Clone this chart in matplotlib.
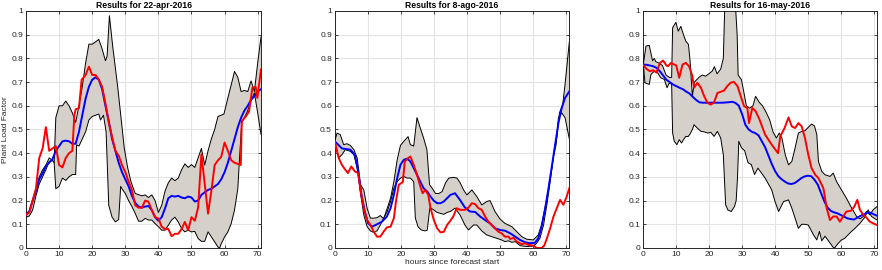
import numpy as np
import matplotlib
matplotlib.use("Agg")
import matplotlib.pyplot as plt

plt.rcParams['font.family'] = ['Liberation Sans', 'DejaVu Sans']

# ------------------------------------------------------------
# data, hours since forecast start
# ------------------------------------------------------------
titles = ["Results for 22-apr-2016", "Results for 8-ago-2016", "Results for 16-may-2016"]
x_ticks = [0, 10, 20, 30, 40, 50, 60, 70]
y_ticks = [0, 0.1, 0.2, 0.3, 0.4, 0.5, 0.6, 0.7, 0.8, 0.9, 1]
y_tick_labels = ["0", "0.1", "0.2", "0.3", "0.4", "0.5", "0.6", "0.7", "0.8", "0.9", "1"]

# 22-apr-2016
apr_up_h = [0, 1, 2, 3, 4, 5, 6, 7, 8, 8.5, 9, 10, 11, 12, 13, 14, 15, 16, 17, 18, 19, 20, 21, 22, 23, 24, 24.5,
            25.2, 26.2, 27, 27.7, 28.7, 29.7, 30.7, 31.7, 33, 34, 35, 36, 37, 38, 39, 40, 41, 42, 43, 44, 45, 46,
            47, 48, 49, 50, 51, 52, 53, 54, 55, 56, 57, 58, 59.8, 61.3, 62.3, 63, 64, 65, 66, 67, 68, 69, 70, 71]
apr_up = [0.145, 0.155, 0.2, 0.25, 0.3, 0.33, 0.35, 0.38, 0.37, 0.36, 0.55, 0.6, 0.6, 0.62, 0.6, 0.57, 0.53, 0.6,
          0.68, 0.78, 0.86, 0.86, 0.87, 0.88, 0.84, 0.79, 0.81, 0.98, 0.85, 0.76, 0.68, 0.55, 0.42, 0.34, 0.28,
          0.23, 0.225, 0.22, 0.224, 0.213, 0.224, 0.2, 0.15, 0.18, 0.24, 0.275, 0.295, 0.284, 0.295, 0.33, 0.355,
          0.34, 0.352, 0.34, 0.38, 0.42, 0.35, 0.41, 0.46, 0.5, 0.555, 0.565, 0.65, 0.705, 0.745, 0.72, 0.66,
          0.665, 0.66, 0.705, 0.66, 0.78, 0.89]
apr_lo_h = [0, 1, 2, 3, 4, 5, 6, 7, 8, 8.5, 9, 10, 11, 12, 13, 14, 15, 15.3, 16, 17, 18, 19, 20, 21, 22, 22.5,
            23.4, 24.2, 25, 26, 27, 28, 28.6, 29, 30, 31, 32, 33, 34, 35, 36, 37, 38, 39, 40, 41, 42, 43, 44, 45,
            46, 47, 48, 49, 50, 51, 52, 53, 54, 55, 56, 57, 58, 58.5, 59, 60, 61, 62, 63, 64, 64.6, 65.2, 66, 67,
            68, 69, 70, 71]
apr_lo = [0.13, 0.135, 0.16, 0.22, 0.27, 0.3, 0.33, 0.365, 0.37, 0.36, 0.25, 0.26, 0.295, 0.285, 0.3, 0.31, 0.31,
          0.435, 0.43, 0.46, 0.49, 0.54, 0.555, 0.56, 0.565, 0.54, 0.56, 0.49, 0.18, 0.13, 0.11, 0.12, 0.26, 0.25,
          0.23, 0.2, 0.175, 0.146, 0.113, 0.113, 0.125, 0.118, 0.118, 0.103, 0.09, 0.075, 0.075, 0.096, 0.118,
          0.13, 0.11, 0.082, 0.068, 0.075, 0.068, 0.07, 0.04, 0.028, 0.028, 0.068, 0.047, 0.026, 0.004, 0.0,
          0.018, 0.047, 0.068, 0.103, 0.16, 0.25, 0.4, 0.53, 0.55, 0.58, 0.62, 0.655, 0.57, 0.48]
apr_mean_h = list(range(72))
apr_mean = [0.14, 0.155, 0.2, 0.24, 0.29, 0.315, 0.345, 0.36, 0.375, 0.41, 0.43, 0.45, 0.453, 0.45, 0.44, 0.44,
            0.49, 0.56, 0.63, 0.68, 0.71, 0.72, 0.71, 0.67, 0.6, 0.535, 0.46, 0.41, 0.36, 0.32, 0.29, 0.26, 0.22,
            0.19, 0.175, 0.17, 0.175, 0.177, 0.16, 0.13, 0.115, 0.13, 0.167, 0.21, 0.22, 0.217, 0.22, 0.213, 0.21,
            0.217, 0.213, 0.196, 0.2, 0.224, 0.235, 0.245, 0.25, 0.26, 0.27, 0.29, 0.32, 0.36, 0.41, 0.46, 0.51,
            0.55, 0.58, 0.6, 0.625, 0.64, 0.66, 0.67]
apr_obs_h = [0, 1, 2, 3, 4, 5, 6, 7, 8, 9, 10, 11, 12, 13, 14, 14.6, 15, 16, 16.8, 18, 19, 20, 21, 22, 23, 24, 25,
             26, 27, 28, 29, 30, 31, 32, 33, 34, 35, 36, 37, 38, 39, 40, 41, 42, 43, 44, 45, 46, 47, 48, 49, 50,
             51, 52, 53, 54, 55, 56, 57, 58, 59, 60, 61, 62, 63, 64.9, 65.2, 66.4, 67.4, 68.4, 69.4, 69.9, 71]
apr_obs = [0.14, 0.15, 0.2, 0.25, 0.38, 0.42, 0.51, 0.41, 0.42, 0.43, 0.35, 0.34, 0.38, 0.4, 0.41, 0.56, 0.585,
           0.59, 0.71, 0.73, 0.765, 0.73, 0.73, 0.71, 0.68, 0.61, 0.53, 0.47, 0.41, 0.39, 0.35, 0.32, 0.28, 0.245,
           0.18, 0.17, 0.17, 0.2, 0.195, 0.16, 0.13, 0.125, 0.09, 0.08, 0.08, 0.05, 0.06, 0.06, 0.08, 0.11, 0.075,
           0.13, 0.115, 0.17, 0.395, 0.27, 0.145, 0.24, 0.35, 0.37, 0.385, 0.445, 0.41, 0.37, 0.36, 0.35, 0.535,
           0.555, 0.576, 0.676, 0.68, 0.633, 0.753]

# 8-ago-2016
ago_up_h = [0, 0.7, 1.7, 2.7, 3.7, 4.7, 5.8, 6.8, 7.8, 8.8, 9.8, 10.8, 11.8, 12.8, 13.8, 14.8, 15.9, 16.9, 17.9,
            18.9, 19.9, 20.9, 22.2, 22.9, 23.9, 24.9, 25.9, 26.9, 27.9, 28.7, 29.5, 30.5, 31.5, 32.5, 33.5, 34.5,
            36, 37, 38, 39, 40, 41.5, 43, 44.5, 46, 47, 48.5, 50, 51.5, 53.6, 55.1, 56.6, 58.1, 60.1, 61.6, 62.6,
            64.2, 65.7, 66.7, 67.2, 68, 69, 69.7, 71]
ago_up = [0.45, 0.485, 0.478, 0.436, 0.44, 0.433, 0.415, 0.38, 0.267, 0.245, 0.168, 0.126, 0.126, 0.128, 0.137,
          0.123, 0.168, 0.21, 0.28, 0.372, 0.433, 0.45, 0.47, 0.436, 0.43, 0.55, 0.506, 0.464, 0.415, 0.267, 0.252,
          0.23, 0.23, 0.238, 0.274, 0.295, 0.298, 0.295, 0.274, 0.245, 0.224, 0.245, 0.217, 0.182, 0.196, 0.2,
          0.154, 0.123, 0.104, 0.09, 0.069, 0.048, 0.037, 0.034, 0.055, 0.097, 0.21, 0.337, 0.436, 0.464, 0.57,
          0.605, 0.69, 0.87]
ago_lo_h = [0, 1.2, 2.2, 3.2, 4.7, 5.8, 6.8, 7.8, 8.8, 9.8, 10.8, 11.8, 12.8, 13.8, 14.8, 15.9, 16.9, 17.9, 18.9,
            19.9, 20.9, 21.9, 22.9, 23.9, 24.4, 25.2, 26.2, 27.4, 28, 28.8, 29.5, 30, 31, 32, 33, 34, 35, 36.4,
            37.9, 39.4, 40.5, 42, 43, 44.5, 46, 47.5, 49, 50.5, 51.5, 52.6, 53.6, 54.6, 56.1, 58.1, 60.1, 61.1,
            62.1, 63.2, 64.2, 65.2, 66.2, 67, 67.7, 68.7, 69.7, 71]
ago_lo = [0.45, 0.38, 0.394, 0.415, 0.408, 0.394, 0.337, 0.23, 0.14, 0.09, 0.072, 0.066, 0.072, 0.097, 0.126,
          0.154, 0.196, 0.252, 0.28, 0.295, 0.302, 0.295, 0.295, 0.28, 0.126, 0.09, 0.076, 0.072, 0.075, 0.17,
          0.165, 0.16, 0.15, 0.146, 0.142, 0.15, 0.154, 0.168, 0.14, 0.097, 0.076, 0.097, 0.097, 0.072, 0.055,
          0.048, 0.041, 0.034, 0.027, 0.03, 0.024, 0.027, 0.01, 0.006, 0.008, 0.02, 0.041, 0.097, 0.182, 0.28,
          0.386, 0.436, 0.55, 0.57, 0.55, 0.46]
ago_mean_h = [0, 2.2, 4.7, 6.1, 7.1, 8.1, 9.1, 10.1, 11.3, 12.8, 14.3, 15.8, 16.9, 17.9, 18.9, 19.9, 20.9, 21.9,
              22.9, 23.9, 24.9, 25.9, 26.9, 28, 29, 30, 31, 32, 33, 34, 35, 36.4, 37.9, 39.4, 40.9, 42.5, 44,
              45.5, 47, 48.5, 50, 51.5, 53.1, 54.6, 56.1, 57.6, 59.1, 60.6, 61.6, 62.6, 63.7, 64.7, 65.7, 66.7,
              67.7, 68.7, 69.7, 71]
ago_mean = [0.45, 0.42, 0.415, 0.394, 0.323, 0.224, 0.154, 0.104, 0.09, 0.1, 0.111, 0.133, 0.168, 0.224, 0.295,
            0.351, 0.372, 0.377, 0.365, 0.337, 0.309, 0.28, 0.252, 0.238, 0.217, 0.199, 0.189, 0.189, 0.196, 0.21,
            0.224, 0.231, 0.203, 0.171, 0.154, 0.152, 0.133, 0.118, 0.104, 0.083, 0.076, 0.073, 0.062, 0.048,
            0.034, 0.024, 0.02, 0.022, 0.041, 0.09, 0.168, 0.252, 0.344, 0.436, 0.527, 0.591, 0.633, 0.661]
ago_obs_h = [0, 1.2, 2.2, 3.2, 4, 5, 6.1, 7.1, 7.8, 8.8, 9.8, 10.8, 11.8, 12.8, 13.8, 14.8, 15.8, 16.9, 17.9,
             18.6, 19.4, 20.6, 21.2, 22.2, 22.9, 23.9, 24.9, 25.9, 26.6, 27.4, 28.3, 29, 30, 31, 32, 33, 34, 35,
             35.9, 36.9, 37.9, 39.4, 40.5, 41.5, 42.5, 43.5, 44.5, 45.5, 46.5, 47.5, 48.5, 49.5, 50.5, 51.5, 52.6,
             53.1, 54.1, 55.1, 56.6, 57.6, 58.6, 60.1, 61.1, 62.6, 63.4, 64.2, 65.2, 66.2, 67.2, 68.2, 69.2, 70.2,
             71]
ago_obs = [0.45, 0.38, 0.35, 0.33, 0.316, 0.344, 0.323, 0.316, 0.245, 0.168, 0.118, 0.097, 0.069, 0.048, 0.048,
           0.069, 0.087, 0.09, 0.126, 0.203, 0.267, 0.278, 0.365, 0.379, 0.386, 0.351, 0.309, 0.26, 0.231, 0.245,
           0.224, 0.168, 0.118, 0.083, 0.066, 0.068, 0.097, 0.115, 0.133, 0.168, 0.161, 0.161, 0.171, 0.189, 0.185,
           0.168, 0.161, 0.133, 0.111, 0.097, 0.083, 0.069, 0.062, 0.048, 0.048, 0.038, 0.043, 0.027, 0.016, 0.02,
           0.013, 0.01, 0.0, 0.0, 0.01, 0.04, 0.083, 0.133, 0.168, 0.203, 0.182, 0.217, 0.252]

# 16-may-2016
may_up_h = [0, 0.8, 1.8, 2.8, 3.3, 3.8, 4.8, 5.8, 6.9, 7.9, 8.6, 8.9, 9.9, 10.6, 11.4, 12.2, 12.9, 13.7, 14.2,
            14.9, 15.5, 16.9, 17.9, 18.9, 19.9, 20.9, 21.6, 22.4, 23.5, 24.3, 24.7, 25.5, 27, 28, 28.5, 28.8,
            29.8, 30.5, 31.3, 32.3, 33.3, 34.1, 35.2, 36.2, 37.4, 38.4, 39.4, 40.4, 41.3, 42.1, 43.1, 44.1, 45.1,
            46.1, 47.1, 48.1, 49.1, 50.1, 51.1, 52, 52.7, 53.2, 54.2, 55.2, 56.7, 57.7, 58.7, 60.2, 61.7, 63.3,
            64.8, 65.8, 66.8, 67.8, 68.8, 69.8, 71]
may_up = [0.775, 0.852, 0.855, 0.79, 0.8, 0.786, 0.78, 0.77, 0.73, 0.72, 0.72, 0.93, 0.952, 0.915, 0.935, 0.9,
          0.873, 0.859, 0.79, 0.64, 0.7, 0.72, 0.73, 0.725, 0.735, 0.746, 0.765, 0.735, 0.755, 0.8, 1.0, 1.08, 1.1,
          1.02, 0.9, 0.73, 0.71, 0.66, 0.6, 0.59, 0.6, 0.64, 0.615, 0.6, 0.57, 0.54, 0.49, 0.464, 0.485, 0.464,
          0.394, 0.351, 0.365, 0.422, 0.485, 0.492, 0.495, 0.509, 0.523, 0.515, 0.478, 0.365, 0.323, 0.309, 0.302,
          0.316, 0.28, 0.245, 0.21, 0.168, 0.133, 0.123, 0.133, 0.154, 0.14, 0.161, 0.175]
may_lo_h = [0, 0.5, 1.8, 2.3, 3.3, 4.3, 5.3, 6.4, 7.2, 7.9, 8.6, 8.9, 9.4, 10.2, 10.9, 11.6, 12.2, 12.9, 13.6,
            14.2, 14.9, 15.4, 16.4, 17.5, 18.5, 19.5, 20.5, 21.5, 22.5, 23.5, 24.3, 25, 25.7, 26.7, 27.7, 28.2,
            28.6, 29, 29.8, 30.8, 31.8, 32.8, 33.8, 34.8, 35.9, 37, 38, 39, 40, 41.1, 42.6, 44.1, 45.1, 46.1,
            47.1, 48.1, 49.1, 50.1, 51.7, 52.7, 53.5, 54.2, 55.2, 56.6, 57.6, 58.1, 59.1, 60.1, 61.1, 62.1, 63.1,
            64.3, 65.8, 67.3, 68.3, 69.3, 71]
may_lo = [0.775, 0.697, 0.69, 0.732, 0.746, 0.74, 0.718, 0.711, 0.676, 0.697, 0.69, 0.485, 0.45, 0.436, 0.457,
          0.443, 0.457, 0.471, 0.47, 0.481, 0.5, 0.52, 0.506, 0.492, 0.49, 0.485, 0.488, 0.471, 0.492, 0.464,
          0.394, 0.182, 0.16, 0.154, 0.175, 0.2, 0.295, 0.45, 0.423, 0.41, 0.36, 0.352, 0.31, 0.337, 0.316, 0.295,
          0.27, 0.245, 0.196, 0.154, 0.196, 0.203, 0.168, 0.126, 0.083, 0.1, 0.1, 0.097, 0.055, 0.034, 0.07, 0.03,
          0.05, 0.023, 0.004, 0.0, 0.018, 0.033, 0.04, 0.054, 0.068, 0.083, 0.104, 0.13, 0.161, 0.133, 0.118]
may_mean_h = list(range(72))
may_mean = [0.774, 0.773, 0.77, 0.767, 0.76, 0.746, 0.728, 0.71, 0.7, 0.69, 0.683, 0.676, 0.67, 0.66, 0.652,
            0.638, 0.625, 0.615, 0.613, 0.613, 0.613, 0.613, 0.613, 0.613, 0.613, 0.614, 0.615, 0.617, 0.612, 0.6,
            0.565, 0.52, 0.5, 0.49, 0.485, 0.475, 0.45, 0.425, 0.39, 0.355, 0.325, 0.303, 0.29, 0.28, 0.272, 0.27,
            0.274, 0.284, 0.295, 0.302, 0.305, 0.303, 0.288, 0.267, 0.231, 0.196, 0.17, 0.156, 0.15, 0.146, 0.139,
            0.132, 0.125, 0.122, 0.12, 0.128, 0.136, 0.142, 0.149, 0.149, 0.142, 0.136]
may_obs_h = [0, 1, 2, 3, 4, 5, 6, 7, 7.5, 8.4, 9.4, 10, 10.9, 11.9, 12.9, 13.9, 14.9, 15.4, 16.4, 17.5, 18.5, 19.5,
             20.5, 21.5, 22.5, 23.5, 24.5, 25.5, 26.5, 27.5, 28.6, 29.6, 30.6, 31.6, 32.1, 33.1, 34.1, 35.2, 37,
             39, 40.9, 41.6, 42.9, 44.1, 45.1, 46.1, 47.1, 48.1, 49.1, 50.1, 51.1, 52.2, 53.2, 54.7, 55.7, 56.7,
             57.7, 58.7, 59.7, 60.7, 61.7, 63.1, 64.1, 65, 65.8, 66.8, 67.8, 68.8, 69.8, 71]
may_obs = [0.772, 0.755, 0.746, 0.75, 0.74, 0.78, 0.791, 0.77, 0.767, 0.781, 0.774, 0.77, 0.718, 0.774, 0.781,
           0.767, 0.725, 0.676, 0.697, 0.676, 0.64, 0.612, 0.605, 0.615, 0.654, 0.659, 0.664, 0.683, 0.697, 0.701,
           0.683, 0.64, 0.598, 0.591, 0.527, 0.591, 0.577, 0.545, 0.478, 0.436, 0.4, 0.471, 0.506, 0.551, 0.513,
           0.506, 0.527, 0.513, 0.464, 0.394, 0.337, 0.309, 0.295, 0.252, 0.168, 0.118, 0.133, 0.133, 0.111, 0.133,
           0.154, 0.157, 0.175, 0.203, 0.161, 0.14, 0.128, 0.111, 0.104, 0.097]
# ------------------------------------------------------------

band_color = "#d5d1ca"
grid_color = "#e3e3e3"
text_color = "#262626"


def draw_panel(ax, title, up_h, up, lo_h, lo, mean_h, mean, obs_h, obs):
    # band polygon: upper bound forward, lower bound backward
    poly_x = np.concatenate([up_h, lo_h[::-1]])
    poly_y = np.concatenate([up, lo[::-1]])
    ax.fill(poly_x, poly_y, facecolor=band_color, edgecolor="none", zorder=2)
    ax.plot(up_h, up, color="black", lw=0.7, zorder=3)
    ax.plot(lo_h, lo, color="black", lw=0.7, zorder=3)
    ax.plot(mean_h, mean, color="#0000ff", lw=1.4, zorder=4)
    ax.plot(obs_h, obs, color="#ff0000", lw=1.4, zorder=5)

    ax.set_xlim(0, 71)
    ax.set_ylim(0, 1)
    ax.set_xticks(x_ticks)
    ax.set_yticks(y_ticks)
    ax.set_yticklabels(y_tick_labels)
    ax.set_axisbelow(True)
    ax.grid(True, color=grid_color, lw=0.8)
    ax.tick_params(direction="in", top=True, right=True, length=2.5, width=0.6,
                   labelsize=6, colors=text_color, pad=2)
    for sp in ax.spines.values():
        sp.set_color(text_color)
        sp.set_linewidth(0.7)
    ax.set_title(title, fontsize=6.2, fontweight="bold", pad=2.5, color="black")


fig = plt.figure(figsize=(8.82, 2.7), dpi=100)
ax1 = fig.add_axes([0.0295, 0.0815, 0.2664, 0.8778])
ax2 = fig.add_axes([0.3795, 0.0815, 0.2660, 0.8778])
ax3 = fig.add_axes([0.7294, 0.0815, 0.2650, 0.8778])

draw_panel(ax1, titles[0], np.array(apr_up_h), np.array(apr_up), np.array(apr_lo_h), np.array(apr_lo),
           apr_mean_h, apr_mean, apr_obs_h, apr_obs)
draw_panel(ax2, titles[1], np.array(ago_up_h), np.array(ago_up), np.array(ago_lo_h), np.array(ago_lo),
           ago_mean_h, ago_mean, ago_obs_h, ago_obs)
draw_panel(ax3, titles[2], np.array(may_up_h), np.array(may_up), np.array(may_lo_h), np.array(may_lo),
           may_mean_h, may_mean, may_obs_h, may_obs)

ax1.set_ylabel("Plant Load Factor", fontsize=6, color=text_color, labelpad=2)
ax2.set_xlabel("hours since forecast start", fontsize=6, color=text_color, labelpad=1)

fig.savefig("out.png", dpi=100)
